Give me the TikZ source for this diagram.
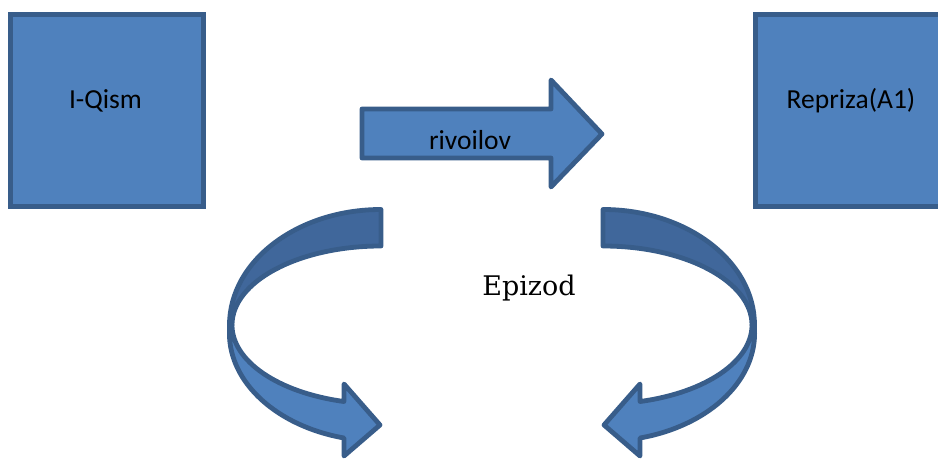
\documentclass[tikz,border=0pt]{standalone}
\usepackage{fontspec}
\usepackage{tikz}
\usetikzlibrary{calc}
\newfontfamily\calibri{Carlito}
\newfontfamily\cambria{DejaVu Serif}
\definecolor{boxfill}{RGB}{79,129,189}
\definecolor{boxline}{RGB}{56,93,138}
\definecolor{bandfill}{RGB}{64,103,155}

\begin{document}
\begin{tikzpicture}[x=1pt, y=1pt, line width=4.8pt,
	box/.style={draw=boxline, fill=boxfill, minimum width=193pt, minimum height=192pt, inner sep=0pt},
	boxtext/.style={font=\calibri\fontsize{27.5}{32}\selectfont, inner sep=0pt},
	band/.style={draw=boxline, fill=boxfill, line join=round}]

	\useasboundingbox (0,0) rectangle (938,459);
	\clip (0,0) rectangle (938,459);

	% squares
	\node[box] (qism) at (107,348.5) {};
	\node[boxtext] (qismtext) at (105.5,358) {I-Qism};
	\node[box] (repriza) at (852,348.5) {};
	\node[boxtext] (reprizatext) at (851,358.5) {Repriza(A1)};

	% straight arrow
	\draw[band] (362,350) -- (551,350) -- (551,379) -- (602,325) -- (551,272) -- (551,301) -- (362,301) -- cycle;
	\begin{scope}
		\clip (380,311) rectangle (560,350);
		\node[boxtext, anchor=base] (rivoilov) at (470,309.5) {rivoilov};
	\end{scope}

	\node[font=\cambria\fontsize{27}{32}\selectfont, anchor=base, inner sep=0pt] (epizod) at (529,164) {Epizod};

	% curved arrow, left
	\begin{scope}
		\draw[band, fill=bandfill] (381,249.5) arc[start angle=90, end angle=180, x radius=151.5, y radius=115.5] -- (232,134) arc[start angle=180, end angle=90, x radius=149, y radius=79] -- cycle;
		\draw[band] (232,134) arc[start angle=180, end angle=255.6, x radius=149, y radius=79] -- (344,75) -- (380,34) -- (344,3) -- (344,21) arc[start angle=255.9, end angle=180, x radius=151.5, y radius=108] -- (229.5,134) -- cycle;
	\end{scope}

	% curved arrow, right (mirrored)
	\begin{scope}[xshift=984pt, xscale=-1]
		\draw[band, fill=bandfill] (381,249.5) arc[start angle=90, end angle=180, x radius=151.5, y radius=115.5] -- (232,134) arc[start angle=180, end angle=90, x radius=149, y radius=79] -- cycle;
		\draw[band] (232,134) arc[start angle=180, end angle=255.6, x radius=149, y radius=79] -- (344,75) -- (380,34) -- (344,3) -- (344,21) arc[start angle=255.9, end angle=180, x radius=151.5, y radius=108] -- (229.5,134) -- cycle;
	\end{scope}

\end{tikzpicture}
\end{document}
